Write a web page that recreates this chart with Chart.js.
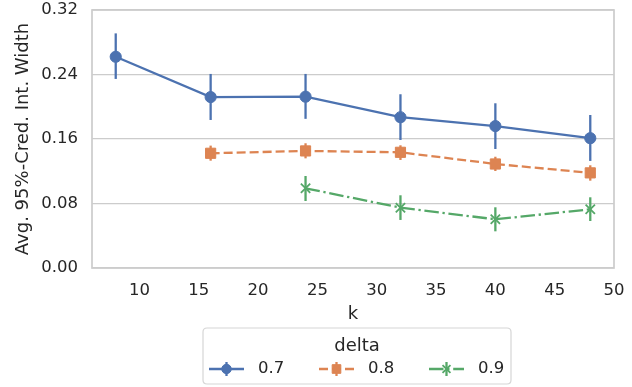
<!DOCTYPE html>
<html>
<head>
<meta charset="utf-8">
<script src="https://cdn.jsdelivr.net/npm/chart.js@4.4.1/dist/chart.umd.min.js"></script>
<style>
  html, body { margin: 0; padding: 0; background: #ffffff; }
  #wrap { width: 632px; height: 387px; }
</style>
</head>
<body>
<div id="wrap"><canvas id="c" width="632" height="387"></canvas></div>
<script>
// k values on the x axis
const kValues = [8, 16, 24, 32, 40, 48];
// mean interval width and error-bar limits per delta
const delta07Mean = [0.262, 0.212, 0.2125, 0.187, 0.176, 0.161];
const delta07Low  = [0.2345, 0.1836, 0.185, 0.1588, 0.1476, 0.1328];
const delta07High = [0.291, 0.2407, 0.2407, 0.2155, 0.2043, 0.1898];
const delta08Mean = [null, 0.1423, 0.1452, 0.1435, 0.129, 0.118];
const delta08Low  = [null, 0.1331, 0.136, 0.134, 0.1203, 0.1083];
const delta08High = [null, 0.1518, 0.1547, 0.1522, 0.138, 0.1274];
const delta09Mean = [null, null, 0.0989, 0.0748, 0.0604, 0.0728];
const delta09Low  = [null, null, 0.0831, 0.0596, 0.0455, 0.0583];
const delta09High = [null, null, 0.1141, 0.0902, 0.0753, 0.0877];
const seriesLabels = ['0.7', '0.8', '0.9'];
const xTicks = [10, 15, 20, 25, 30, 35, 40, 45, 50];
const yTicks = [0, 0.08, 0.16, 0.24, 0.32];

const FONT = 'DejaVu Sans';
const TEXT = '#262626';
const GRID = '#cccccc';
const FS = 16.5;   // tick and legend entry text
const FT = 18;     // axis and legend titles

function points(means) {
  const out = [];
  means.forEach((m, i) => { if (m !== null) out.push({ x: kValues[i], y: m }); });
  return out;
}

const styles = [
  { color: '#4C72B0', dash: [], pointStyle: 'circle', radius: 5.6, bw: 1, low: delta07Low, high: delta07High },
  { color: '#DD8452', dash: [9, 4], pointStyle: 'rect', radius: 7.2, bw: 1, low: delta08Low, high: delta08High },
  { color: '#55A868', dash: [14.5, 3.7, 2.3, 3.7], pointStyle: 'crossRot', radius: 6.6, bw: 1.8, low: delta09Low, high: delta09High }
];
const means = [delta07Mean, delta08Mean, delta09Mean];

const datasets = styles.map((s, i) => ({
  label: seriesLabels[i],
  data: points(means[i]),
  borderColor: s.color,
  backgroundColor: s.color,
  borderWidth: 2.3,
  borderDash: s.dash,
  pointStyle: s.pointStyle,
  pointRadius: s.radius,
  pointBorderWidth: s.bw,
  pointBackgroundColor: s.color,
  pointBorderColor: s.color,
  tension: 0,
  fill: false
}));

// vertical error bars, drawn through the chart scales
const errorBars = {
  id: 'errorBars',
  beforeDatasetsDraw(chart) {
    const { ctx, scales: { x, y } } = chart;
    ctx.save();
    ctx.lineWidth = 2.3;
    ctx.setLineDash([]);
    styles.forEach((s) => {
      ctx.strokeStyle = s.color;
      kValues.forEach((k, i) => {
        if (s.low[i] === null) return;
        const px = x.getPixelForValue(k);
        ctx.beginPath();
        ctx.moveTo(px, y.getPixelForValue(s.low[i]));
        ctx.lineTo(px, y.getPixelForValue(s.high[i]));
        ctx.stroke();
      });
    });
    ctx.restore();
  }
};

// light frame around the plotting area
const frame = {
  id: 'frame',
  afterDatasetsDraw(chart) {
    const { ctx, chartArea: a } = chart;
    ctx.save();
    ctx.strokeStyle = GRID;
    ctx.lineWidth = 1.7;
    ctx.strokeRect(a.left, a.top, a.right - a.left, a.bottom - a.top);
    ctx.restore();
  }
};

function roundRect(ctx, x, y, w, h, r) {
  ctx.beginPath();
  ctx.moveTo(x + r, y);
  ctx.lineTo(x + w - r, y);
  ctx.quadraticCurveTo(x + w, y, x + w, y + r);
  ctx.lineTo(x + w, y + h - r);
  ctx.quadraticCurveTo(x + w, y + h, x + w - r, y + h);
  ctx.lineTo(x + r, y + h);
  ctx.quadraticCurveTo(x, y + h, x, y + h - r);
  ctx.lineTo(x, y + r);
  ctx.quadraticCurveTo(x, y, x + r, y);
  ctx.closePath();
}

// legend with title below the axes
const bottomLegend = {
  id: 'bottomLegend',
  afterDraw(chart) {
    const ctx = chart.ctx;
    const box = { x: 203, y: 328, w: 308, h: 56 };
    ctx.save();
    roundRect(ctx, box.x, box.y, box.w, box.h, 4);
    ctx.fillStyle = '#ffffff';
    ctx.fill();
    ctx.strokeStyle = '#d6d6d6';
    ctx.lineWidth = 1.2;
    ctx.stroke();

    ctx.fillStyle = TEXT;
    ctx.font = FT + 'px "' + FONT + '"';
    ctx.textAlign = 'center';
    ctx.textBaseline = 'middle';
    ctx.fillText('delta', box.x + box.w / 2, 346);

    ctx.font = FS + 'px "' + FONT + '"';
    const rowY = 369;
    const handles = [209, 319, 429];
    const handleW = 35;
    styles.forEach((s, i) => {
      const x0 = handles[i];
      const cx = x0 + handleW / 2;
      ctx.strokeStyle = s.color;
      ctx.fillStyle = s.color;
      ctx.lineWidth = 2.3;
      ctx.setLineDash(s.dash);
      ctx.beginPath();
      ctx.moveTo(x0, rowY);
      ctx.lineTo(x0 + handleW, rowY);
      ctx.stroke();
      ctx.setLineDash([]);
      ctx.beginPath();
      ctx.moveTo(cx, rowY - 7);
      ctx.lineTo(cx, rowY + 7);
      ctx.stroke();
      ctx.lineWidth = s.bw;
      Chart.helpers.drawPoint(ctx, {
        pointStyle: s.pointStyle,
        radius: s.radius * 0.85,
        rotation: 0,
        borderWidth: s.bw
      }, cx, rowY);
      ctx.fillStyle = TEXT;
      ctx.textAlign = 'left';
      ctx.textBaseline = 'middle';
      ctx.fillText(seriesLabels[i], x0 + handleW + 14, rowY);
    });
    ctx.restore();
  }
};

new Chart(document.getElementById('c'), {
  type: 'line',
  data: { datasets },
  options: {
    responsive: false,
    animation: false,
    layout: { padding: { left: 0, right: 18, top: 10, bottom: 61.4 } },
    plugins: { legend: { display: false }, tooltip: { enabled: false } },
    scales: {
      x: {
        type: 'linear',
        min: 6,
        max: 50,
        afterBuildTicks(scale) { scale.ticks = xTicks.map(v => ({ value: v })); },
        afterFit(scale) {
          scale.height = 57.6;
          scale.paddingLeft = 0;
          scale.paddingRight = 0;
        },
        grid: { display: false, drawTicks: false },
        border: { display: false },
        ticks: {
          padding: 13,
          color: TEXT,
          font: { family: FONT, size: FS },
          maxRotation: 0,
          callback: v => String(v)
        },
        title: {
          display: true,
          text: 'k',
          color: TEXT,
          font: { family: FONT, size: FT },
          padding: { top: 0, bottom: 0 }
        }
      },
      y: {
        type: 'linear',
        min: 0,
        max: 0.32,
        afterBuildTicks(scale) { scale.ticks = yTicks.map(v => ({ value: v })); },
        afterFit(scale) {
          scale.width = 92;
          scale.paddingTop = 0;
          scale.paddingBottom = 0;
        },
        grid: { color: GRID, lineWidth: 1.3, drawTicks: false },
        border: { display: false },
        ticks: {
          padding: 14,
          color: TEXT,
          font: { family: FONT, size: FS },
          callback: v => Number(v).toFixed(2)
        },
        title: {
          display: true,
          text: 'Avg. 95%-Cred. Int. Width',
          color: TEXT,
          font: { family: FONT, size: FT },
          padding: { top: 12.3, bottom: 0 }
        }
      }
    }
  },
  plugins: [errorBars, frame, bottomLegend]
});
</script>
</body>
</html>
